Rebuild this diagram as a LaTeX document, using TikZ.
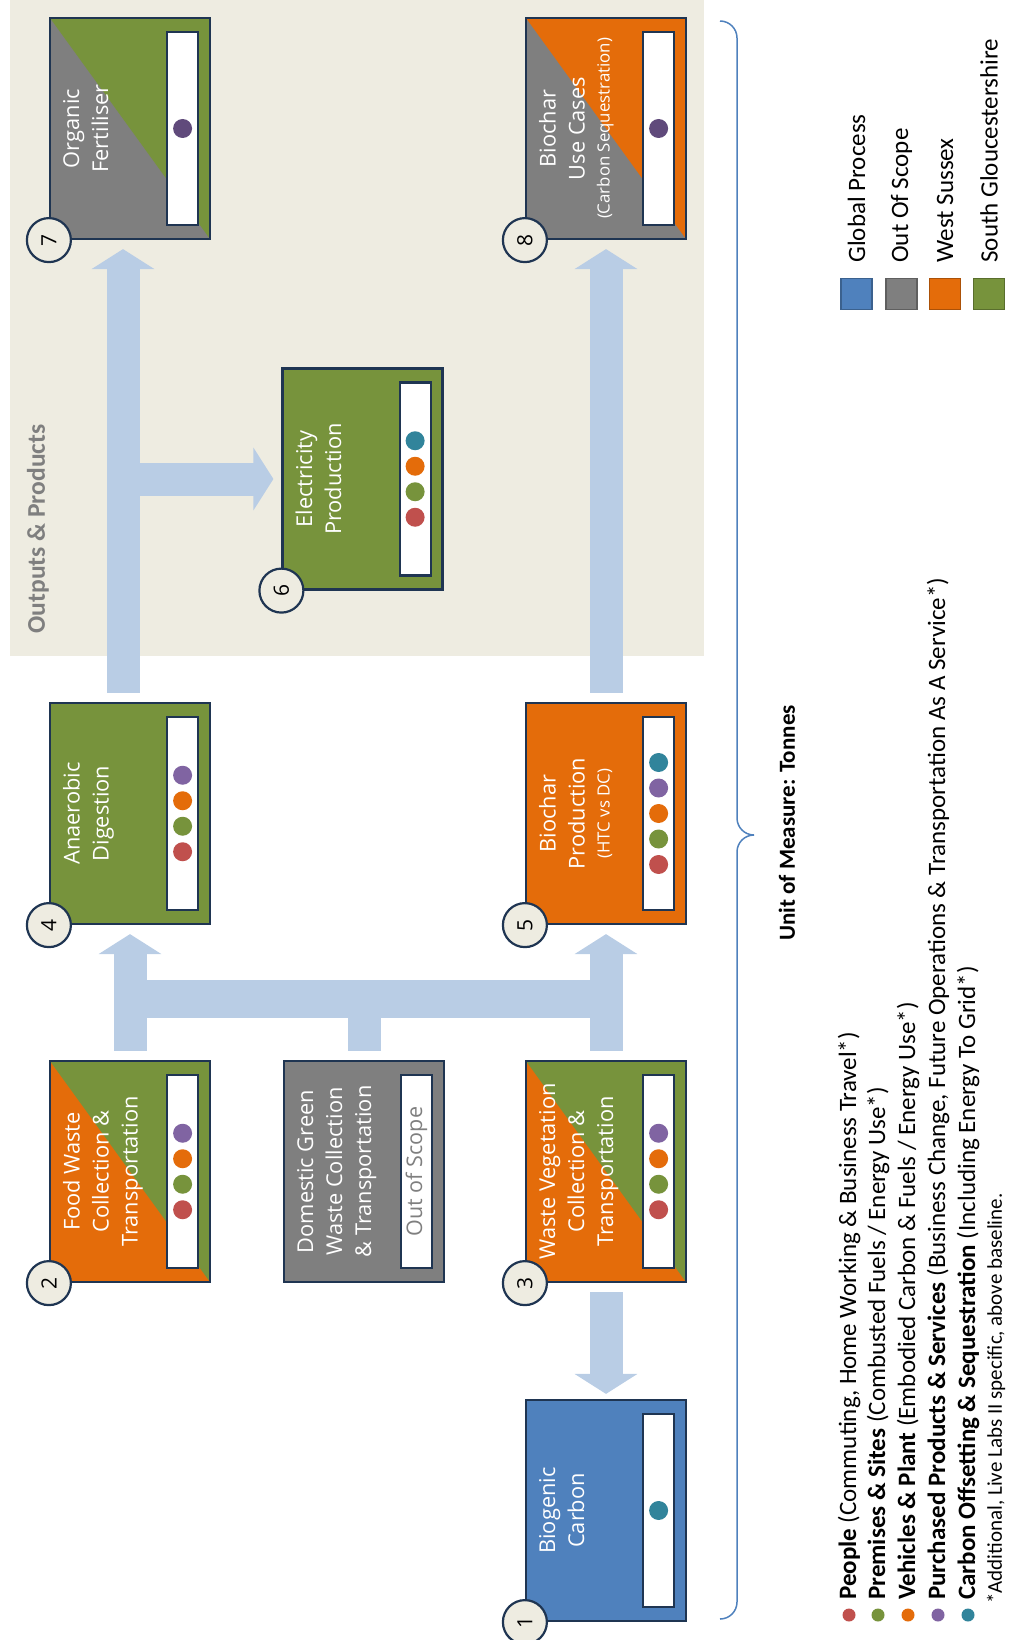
\documentclass[tikz,border=0pt]{standalone}
\usepackage{fontspec}
\setmainfont{Open Sans}
\newfontfamily\legendfont{Carlito}
\usetikzlibrary{arrows.meta,positioning}

\definecolor{procblue}{HTML}{4F81BD}
\definecolor{scopegray}{HTML}{7F7F7F}
\definecolor{sussex}{HTML}{E46C0A}
\definecolor{glos}{HTML}{77933C}
\definecolor{edge}{HTML}{1F3552}
\definecolor{flowblue}{HTML}{B9CDE5}
\definecolor{paper}{HTML}{EEECE1}
\definecolor{cpeople}{HTML}{C0504D}
\definecolor{cpremises}{HTML}{77933C}
\definecolor{cvehicles}{HTML}{E46C0A}
\definecolor{cpurchased}{HTML}{8064A2}
\definecolor{coffset}{HTML}{31849B}
\definecolor{cpurpledark}{HTML}{604A7B}
\definecolor{headgray}{HTML}{7F7F7F}

\tikzset{
  procbox/.style={rectangle,draw=edge,line width=2.2pt,fill=#1,minimum width=160pt,minimum height=221pt,inner sep=0pt},
  halfbox/.style={path picture={\fill[#1] (path picture bounding box.north west) -- (path picture bounding box.north east) -- (path picture bounding box.south east) -- cycle;}},
  scorebar/.style={rectangle,draw=edge,line width=2.2pt,fill=white,minimum width=31pt,minimum height=193pt,inner sep=0pt},
  scoredot/.style={circle,fill=#1,minimum size=19pt,inner sep=0pt},
  boxtext/.style={rotate=90,anchor=north,text=white,align=center,inner sep=2pt,font=\fontsize{21.8}{29}\selectfont},
  numcircle/.style={circle,draw=edge,line width=2.2pt,fill=paper,minimum size=44pt,inner sep=0pt,rotate=90,font=\fontsize{21}{21}\selectfont},
  flow/.style={draw=flowblue,line width=33pt,-{Triangle[length=20pt,width=62pt]},shorten <=9pt,shorten >=9pt},
  flowline/.style={draw=flowblue,line width=33pt},
  legendtext/.style={rotate=90,anchor=west,inner sep=0pt,font=\legendfont\fontsize{25}{29}\selectfont},
  legenddot/.style={circle,fill=#1,minimum size=13pt,inner sep=0pt},
  swatch/.style={rectangle,draw=#1!75!black,line width=1.5pt,fill=#1,minimum size=31pt,inner sep=0pt}
}

\begin{document}
\begin{tikzpicture}[x=1pt,y=-1pt]
  \useasboundingbox (0,0) rectangle (1009,1640);
  \fill[paper] (10,0) rectangle (704,656);
  \node[rotate=90,text=headgray,font=\legendfont\bfseries\fontsize{25.5}{29}\selectfont] (outputs) at (38,529) {Outputs \& Products};

  \node[procbox=scopegray,halfbox=glos] (of) at (130,128.5) {};
  \node[procbox=scopegray,halfbox=sussex] (bu) at (606,128.5) {};
  \node[procbox=glos] (ep) at (362.5,479) {};
  \node[procbox=glos] (ad) at (130,813.5) {};
  \node[procbox=sussex] (bp) at (606,813.5) {};
  \node[procbox=sussex,halfbox=glos] (fw) at (130,1171.5) {};
  \node[procbox=scopegray] (dg) at (364,1171.5) {};
  \node[procbox=sussex,halfbox=glos] (wv) at (606,1171.5) {};
  \node[procbox=procblue] (bc) at (606,1510.5) {};

  \node[boxtext] (of-t) at ([xshift=12pt]of.west) {Organic\\Fertiliser};
  \node[boxtext] (bu-t) at ([xshift=12pt]bu.west) {Biochar\\Use Cases\\[-4pt]{\fontsize{16.8}{19}\selectfont(Carbon Sequestration)}};
  \node[boxtext] (ep-t) at ([xshift=12pt]ep.west) {Electricity\\Production};
  \node[boxtext] (ad-t) at ([xshift=12pt]ad.west) {Anaerobic\\Digestion};
  \node[boxtext] (bp-t) at ([xshift=12pt]bp.west) {Biochar\\Production\\[-4pt]{\fontsize{16.8}{19}\selectfont(HTC vs DC)}};
  \node[boxtext] (fw-t) at ([xshift=12pt]fw.west) {Food Waste\\Collection \&\\Transportation};
  \node[boxtext] (dg-t) at ([xshift=12pt]dg.west) {Domestic Green\\Waste Collection\\\& Transportation};
  \node[boxtext] (wv-t) at ([xshift=12pt]wv.west) {Waste Vegetation\\Collection \&\\Transportation};
  \node[boxtext] (bc-t) at ([xshift=12pt]bc.west) {Biogenic\\Carbon};

  \node[scorebar] (of-bar) at ([xshift=-28.5pt]of.east) {};
  \node[scorebar] (bu-bar) at ([xshift=-28.5pt]bu.east) {};
  \node[scorebar] (ep-bar) at ([xshift=-28.5pt]ep.east) {};
  \node[scorebar] (ad-bar) at ([xshift=-28.5pt]ad.east) {};
  \node[scorebar] (bp-bar) at ([xshift=-28.5pt]bp.east) {};
  \node[scorebar] (fw-bar) at ([xshift=-28.5pt]fw.east) {};
  \node[scorebar] (dg-bar) at ([xshift=-28.5pt]dg.east) {};
  \node[scorebar] (wv-bar) at ([xshift=-28.5pt]wv.east) {};
  \node[scorebar] (bc-bar) at ([xshift=-28.5pt]bc.east) {};
  \node[rotate=90,text=scopegray,inner sep=0pt,font=\fontsize{21.5}{24}\selectfont] (dg-scope) at (dg-bar) {Out of Scope};

  \node[scoredot=cpurpledark] (of-d1) at (of-bar) {};
  \node[scoredot=cpurpledark] (bu-d1) at (bu-bar) {};
  \node[scoredot=coffset] (bc-d1) at (bc-bar) {};
  \foreach \c [count=\i] in {cpeople,cpremises,cvehicles,coffset}
    \node[scoredot=\c] (ep-d\i) at ([yshift={(\i-2.5)*25.5pt}]ep-bar.center) {};
  \foreach \c [count=\i] in {cpeople,cpremises,cvehicles,cpurchased}
    \node[scoredot=\c] (ad-d\i) at ([yshift={(\i-2.5)*25.5pt}]ad-bar.center) {};
  \foreach \c [count=\i] in {cpeople,cpremises,cvehicles,cpurchased,coffset}
    \node[scoredot=\c] (bp-d\i) at ([yshift={(\i-3)*25.5pt}]bp-bar.center) {};
  \foreach \c [count=\i] in {cpeople,cpremises,cvehicles,cpurchased}
    \node[scoredot=\c] (fw-d\i) at ([yshift={(\i-2.5)*25.5pt}]fw-bar.center) {};
  \foreach \c [count=\i] in {cpeople,cpremises,cvehicles,cpurchased}
    \node[scoredot=\c] (wv-d\i) at ([yshift={(\i-2.5)*25.5pt}]wv-bar.center) {};

  \coordinate (fork) at ([yshift=61pt]dg.north);
  \draw[flowline,shorten <=9pt] (dg.north) -- (fork);
  \draw[flowblue,line width=38pt] (fw.north |- fork) -- (wv.north |- fork);
  \draw[flow] (fw.north) -- (ad.south);
  \draw[flow] (wv.north) -- (bp.south);
  \draw[flow,shorten >=5pt] (wv.south) -- (bc.north);
  \draw[flow] ([xshift=-7pt]ad.north) -- ([xshift=-7pt]of.south);
  \draw[flow] (bp.north) -- (bu.south);
  \draw[flow,shorten <=0pt,shorten >=8pt] ([xshift=-7pt]ad.north |- ep.west) -- (ep.west);

  \node[numcircle] (n1) at (bc.south west) {1};
  \node[numcircle] (n2) at (fw.south west) {2};
  \node[numcircle] (n3) at (wv.south west) {3};
  \node[numcircle] (n4) at (ad.south west) {4};
  \node[numcircle] (n5) at (bp.south west) {5};
  \node[numcircle] (n6) at (ep.south west) {6};
  \node[numcircle] (n7) at (of.south west) {7};
  \node[numcircle] (n8) at (bu.south west) {8};

  \draw[procblue,line width=1.5pt] (720,21) to[out=0,in=90] (737,38) -- (737,818) to[out=-90,in=180] (754,835) to[out=180,in=90] (737,852) -- (737,1602) to[out=-90,in=0] (720,1619);
  \node[rotate=90,font=\legendfont\bfseries\fontsize{23}{27}\selectfont] (unit) at (787,823) {Unit of Measure: Tonnes};

  \node[legenddot=cpeople] (lg-d1) at (849,1615) {};
  \node[legendtext] (lg-people) at (849,1600) {\textbf{People} (Commuting, Home Working \& Business Travel*)};
  \node[legenddot=cpremises] (lg-d2) at (878,1615) {};
  \node[legendtext] (lg-premises) at (878,1600) {\textbf{Premises \& Sites} (Combusted Fuels / Energy Use*)};
  \node[legenddot=cvehicles] (lg-d3) at (908,1615) {};
  \node[legendtext] (lg-vehicles) at (908,1600) {\textbf{Vehicles \& Plant} (Embodied Carbon \& Fuels / Energy Use*)};
  \node[legenddot=cpurchased] (lg-d4) at (938,1615) {};
  \node[legendtext] (lg-purchased) at (938,1600) {\textbf{Purchased Products \& Services} (Business Change, Future Operations \& Transportation As A Service*)};
  \node[legenddot=coffset] (lg-d5) at (968,1615) {};
  \node[legendtext] (lg-offset) at (968,1600) {\textbf{Carbon Offsetting \& Sequestration} (Including Energy To Grid*)};
  \node[legendtext,font=\legendfont\fontsize{21}{24}\selectfont] (lg-note) at (996,1604) {*Additional, Live Labs II specific, above baseline.};

  \node[swatch=procblue] (sw-global) at (856.5,294) {};
  \node[legendtext] (sw-global-t) at ([yshift=15pt]sw-global.north) {Global Process};
  \node[swatch=scopegray] (sw-scope) at (901.5,294) {};
  \node[legendtext] (sw-scope-t) at ([yshift=15pt]sw-scope.north) {Out Of Scope};
  \node[swatch=sussex] (sw-sussex) at (945,294) {};
  \node[legendtext] (sw-sussex-t) at ([yshift=15pt]sw-sussex.north) {West Sussex};
  \node[swatch=glos] (sw-glos) at (989,294) {};
  \node[legendtext] (sw-glos-t) at ([yshift=15pt]sw-glos.north) {South Gloucestershire};
\end{tikzpicture}
\end{document}
